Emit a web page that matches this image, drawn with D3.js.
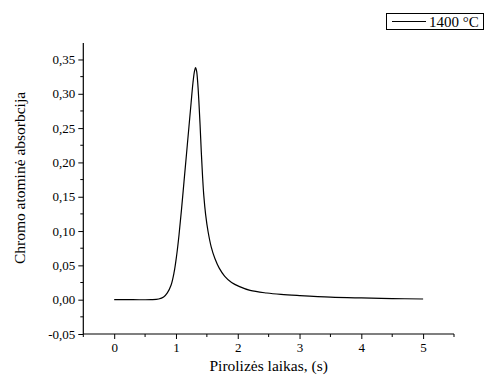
<!DOCTYPE html>
<html>
<head>
<meta charset="utf-8">
<script src="https://cdn.jsdelivr.net/npm/d3@7"></script>
<style>
  html, body { margin: 0; padding: 0; background: #fff; }
  svg { display: block; font-family: "Liberation Serif", "Times New Roman", serif; }
</style>
</head>
<body>
<svg id="chart" width="486" height="385"></svg>
<script>
// Pyrolysis time (s) and chromium atomic absorption signal at 1400 °C
const time = [0, 0.3, 0.6, 0.72, 0.80, 0.86, 0.92, 0.97, 1.01, 1.05, 1.09, 1.13, 1.17, 1.21, 1.245, 1.275, 1.30, 1.317,
              1.334, 1.352, 1.37, 1.39, 1.41, 1.43, 1.45, 1.48, 1.52, 1.57, 1.63, 1.70, 1.79, 1.90, 2.03, 2.2, 2.47, 2.7, 3.0, 3.5, 4.0, 4.5, 5.0];
const absorb = [0, 0, 0, 0.001, 0.004, 0.010, 0.021, 0.040, 0.064, 0.095, 0.132, 0.172, 0.212, 0.252, 0.287, 0.316, 0.333, 0.338,
                0.333, 0.316, 0.290, 0.255, 0.215, 0.180, 0.152, 0.124, 0.099, 0.077, 0.060, 0.046, 0.034, 0.025, 0.019, 0.0135, 0.0097, 0.0077, 0.006, 0.0037, 0.0025, 0.0016, 0.001];
const xTicks = [0, 1, 2, 3, 4, 5];
const yTicks = [-0.05, 0, 0.05, 0.10, 0.15, 0.20, 0.25, 0.30, 0.35];
const seriesName = "1400 °C";
const xTitle = "Pirolizės laikas, (s)";
const yTitle = "Chromo atominė absorbcija";

const FONT = "'Liberation Serif', 'Times New Roman', serif";
const svg = d3.select("#chart");
const plotL = 83.3, plotR = 454, plotT = 43, plotB = 334;

const x = d3.scaleLinear().domain([-0.5, 5.5]).range([plotL, plotR]);
const y = d3.scaleLinear().domain([-0.05, 0.374]).range([plotB, plotT]);

const fmt = v => d3.format(".2f")(v).replace(".", ",").replace("−", "-");

// minor ticks halfway between major ones
const xMinor = d3.range(-0.5, 5.51, 0.5).filter(v => Math.abs(v - Math.round(v)) > 1e-6);
const yMinor = d3.range(-0.025, 0.374, 0.05);

const gx = svg.append("g").attr("transform", `translate(0,${plotB})`);
gx.call(d3.axisBottom(x).tickValues(xTicks).tickSize(5).tickPadding(4).tickFormat(d3.format("d")));
gx.append("g").selectAll("line").data(xMinor).join("line")
  .attr("x1", d => x(d)).attr("x2", d => x(d)).attr("y1", 0).attr("y2", 3)
  .attr("stroke", "#000");

const gy = svg.append("g").attr("transform", `translate(${plotL},0)`);
gy.call(d3.axisLeft(y).tickValues(yTicks).tickSize(5).tickPadding(3).tickFormat(fmt));
gy.append("g").selectAll("line").data(yMinor).join("line")
  .attr("y1", d => y(d)).attr("y2", d => y(d)).attr("x1", 0).attr("x2", -3)
  .attr("stroke", "#000");

[gx, gy].forEach(g => {
  g.attr("font-family", FONT);
  g.select(".domain").attr("stroke", "#000").attr("stroke-width", 1.2);
  g.selectAll(".tick line").attr("stroke", "#000");
  g.selectAll(".tick text").attr("font-family", FONT).attr("font-size", 13).attr("fill", "#000");
});
// plain axis lines without outer tick ends
gx.select(".domain").attr("d", `M${plotL},0H${plotR}`);
gy.select(".domain").attr("d", `M0,${plotB}V${plotT}`);

// signal curve
const line = d3.line().x((d, i) => x(time[i])).y(d => y(d)).curve(d3.curveCatmullRom.alpha(0.5));
svg.append("path").datum(absorb)
  .attr("d", line).attr("fill", "none").attr("stroke", "#000").attr("stroke-width", 1.2);

// axis titles
svg.append("text").attr("x", (plotL + plotR) / 2).attr("y", 371)
  .attr("text-anchor", "middle").attr("font-family", FONT).attr("font-size", 15.5).text(xTitle);
svg.append("text").attr("transform", `translate(25,178) rotate(-90)`)
  .attr("text-anchor", "middle").attr("font-family", FONT).attr("font-size", 15.5).text(yTitle);

// legend
const lg = svg.append("g");
lg.append("rect").attr("x", 386.5).attr("y", 13.5).attr("width", 97).attr("height", 16)
  .attr("fill", "#fff").attr("stroke", "#000").attr("stroke-width", 1);
lg.append("line").attr("x1", 392).attr("x2", 426).attr("y1", 21.5).attr("y2", 21.5)
  .attr("stroke", "#000").attr("stroke-width", 1.2);
lg.append("text").attr("x", 429).attr("y", 26.5).attr("font-family", FONT).attr("font-size", 15).text(seriesName);
</script>
</body>
</html>
